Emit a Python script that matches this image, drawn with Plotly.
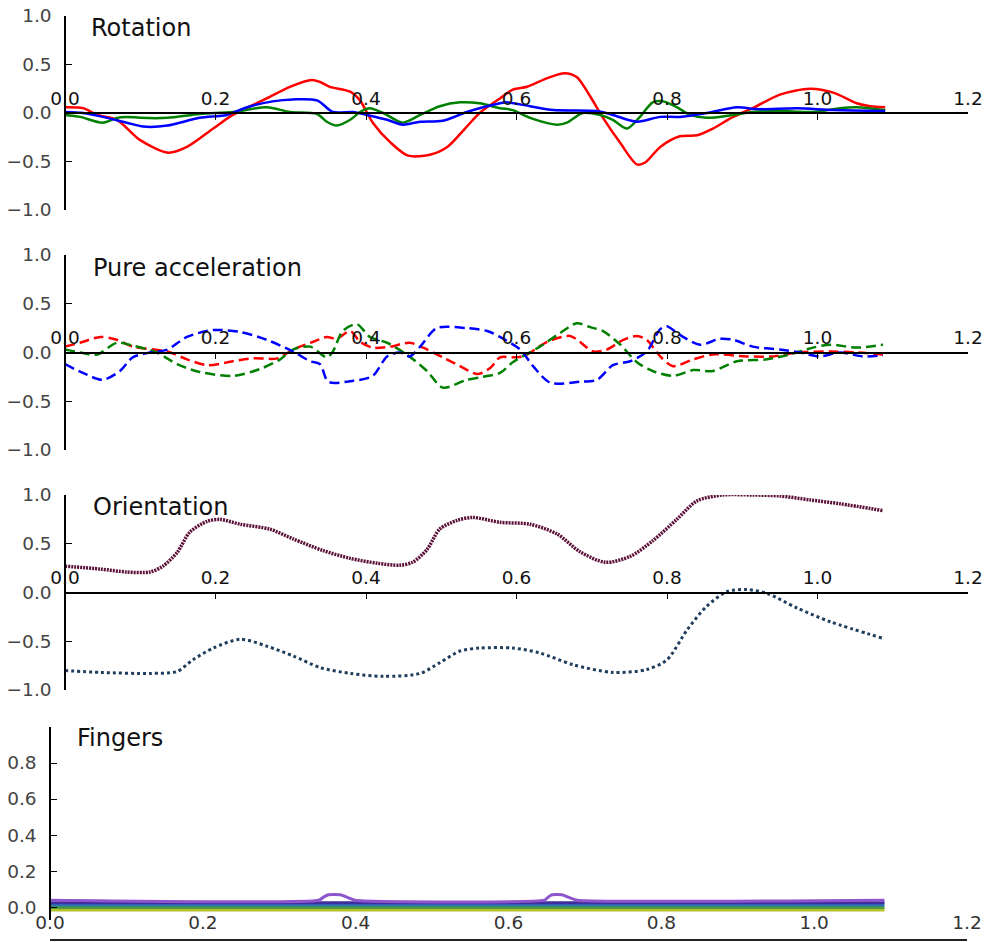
import plotly.graph_objects as go

W, H = 984, 942

# ---------------- data ----------------
rot_red_x = [0, .024, .043, .069, .100, .137, .162, .197, .223, .268, .299, .328, .339, .352, .379, .392, .409, .432, .456, .485,
             .508, .534, .551, .578, .595, .614, .641, .664, .680, .698, .715, .738, .760, .771, .791, .817, .840, .861, .888, .914,
             .950, .990, 1.021, 1.052, 1.070, 1.090]
rot_red_y = [0.06, 0.05, -0.02, -0.07, -0.28, -0.41, -0.35, -0.16, -0.02, 0.15, 0.27, 0.34, 0.32, 0.27, 0.22, 0.13, -0.10, -0.30, -0.44, -0.43,
             -0.35, -0.14, 0.0, 0.15, 0.24, 0.27, 0.36, 0.41, 0.37, 0.17, -0.05, -0.31, -0.53, -0.51, -0.35, -0.24, -0.23, -0.16, -0.04, 0.05,
             0.19, 0.25, 0.21, 0.10, 0.07, 0.06]

rot_green_x = [0, .020, .050, .069, .082, .100, .136, .179, .223, .268, .299, .335, .348, .361, .379, .392, .405, .423, .449, .472,
               .498, .525, .551, .578, .595, .618, .654, .667, .688, .711, .728, .747, .764, .781, .795, .813, .831, .853, .888, .914,
               .950, .994, 1.030, 1.052, 1.090]
rot_green_y = [-0.02, -0.04, -0.10, -0.05, -0.04, -0.05, -0.05, -0.01, 0.01, 0.06, 0.01, -0.01, -0.09, -0.13, -0.07, 0.01, 0.05, 0.0, -0.10, -0.02,
               0.07, 0.11, 0.10, 0.05, 0.03, -0.05, -0.12, -0.10, 0.0, -0.02, -0.07, -0.16, -0.04, 0.11, 0.12, 0.06, -0.02, -0.05, -0.02, 0.01,
               0.02, 0.01, 0.05, 0.06, 0.03]

rot_blue_x = [0, .024, .056, .082, .104, .136, .179, .215, .242, .276, .303, .335, .356, .383, .401, .428, .449, .472, .502, .534,
              .578, .587, .618, .649, .707, .728, .760, .791, .817, .853, .893, .920, .973, 1.021, 1.090]
rot_blue_y = [0.01, 0.0, -0.05, -0.10, -0.14, -0.13, -0.05, -0.02, 0.06, 0.12, 0.14, 0.13, 0.01, 0.01, -0.02, -0.07, -0.12, -0.09, -0.08, 0.01,
              0.10, 0.11, 0.07, 0.03, 0.02, -0.02, -0.09, -0.04, -0.04, 0.0, 0.06, 0.04, 0.05, 0.03, 0.02]

acc_red_x = [0, .020, .047, .069, .090, .136, .162, .189, .223, .250, .282, .303, .330, .348, .361, .379, .392, .409, .432, .458,
             .476, .502, .525, .548, .565, .578, .595, .609, .641, .671, .684, .702, .720, .742, .760, .773, .791, .808, .835, .861,
             .906, .941, .973, 1.017, 1.052, 1.087]
acc_red_y = [0.06, 0.10, 0.16, 0.13, 0.06, 0.01, -0.07, -0.13, -0.09, -0.06, -0.06, 0.03, 0.11, 0.16, 0.14, 0.22, 0.11, 0.05, 0.06, 0.10,
             0.05, -0.05, -0.14, -0.22, -0.16, -0.05, -0.05, -0.04, 0.11, 0.17, 0.11, 0.01, 0.03, 0.13, 0.17, 0.13, -0.04, -0.14, -0.07, -0.02,
             -0.04, -0.04, 0.0, 0.01, 0.0, -0.02]

acc_green_x = [0, .020, .043, .069, .090, .122, .149, .179, .223, .259, .286, .303, .326, .348, .356, .369, .388, .405, .428, .454,
               .481, .502, .534, .555, .578, .595, .631, .658, .680, .698, .715, .738, .760, .781, .808, .835, .861, .893, .933, .963,
               .994, 1.017, 1.052, 1.087]
acc_green_y = [0.03, 0.0, -0.02, 0.10, 0.07, 0.0, -0.12, -0.20, -0.24, -0.17, -0.07, 0.03, 0.06, -0.05, 0.01, 0.22, 0.29, 0.16, 0.10, -0.02,
               -0.19, -0.36, -0.28, -0.25, -0.21, -0.10, 0.06, 0.20, 0.30, 0.26, 0.22, 0.08, -0.10, -0.19, -0.24, -0.18, -0.19, -0.09, -0.07, -0.02,
               0.05, 0.08, 0.05, 0.08]

acc_blue_x = [0, .024, .050, .073, .090, .113, .136, .162, .197, .233, .268, .303, .326, .339, .350, .383, .409, .428, .445, .458,
              .472, .494, .534, .561, .578, .605, .622, .645, .684, .707, .728, .751, .773, .791, .800, .817, .844, .870, .888, .914,
              .950, .977, 1.003, 1.030, 1.060, 1.087]
acc_blue_y = [-0.12, -0.21, -0.28, -0.19, -0.05, 0.0, 0.03, 0.16, 0.23, 0.21, 0.13, 0.01, -0.09, -0.12, -0.30, -0.29, -0.24, -0.04, 0.0, -0.04,
              0.06, 0.25, 0.25, 0.22, 0.16, 0.03, -0.14, -0.31, -0.30, -0.28, -0.13, -0.09, 0.01, 0.24, 0.27, 0.18, 0.08, 0.14, 0.13, 0.06,
              0.03, 0.0, -0.04, 0.0, -0.04, -0.03]

ori_top_x = [0, .047, .082, .113, .130, .149, .166, .189, .206, .233, .272, .303, .343, .379, .415, .445, .462, .481, .498, .521,
             .542, .578, .618, .654, .684, .718, .751, .781, .813, .840, .874, .914, .950, .990, 1.030, 1.087]
ori_top_y = [0.27, 0.24, 0.21, 0.21, 0.27, 0.41, 0.62, 0.73, 0.75, 0.70, 0.65, 0.55, 0.43, 0.35, 0.30, 0.28, 0.31, 0.44, 0.65, 0.74,
             0.77, 0.72, 0.70, 0.60, 0.42, 0.31, 0.37, 0.53, 0.75, 0.94, 1.00, 1.00, 0.99, 0.95, 0.91, 0.84]

ori_bot_x = [0, .047, .113, .149, .170, .197, .233, .268, .303, .339, .379, .423, .472, .498, .525, .551, .595, .631, .675, .728,
             .773, .800, .827, .853, .880, .906, .933, .973, 1.017, 1.087]
ori_bot_y = [-0.80, -0.82, -0.83, -0.81, -0.69, -0.57, -0.48, -0.55, -0.65, -0.77, -0.83, -0.86, -0.83, -0.72, -0.60, -0.57, -0.57, -0.62, -0.74, -0.82,
             -0.79, -0.69, -0.38, -0.14, 0.01, 0.03, -0.01, -0.16, -0.30, -0.47]

fing_flat_x = [0, 1.092]
fing_purple_x = [0, .352, .358, .364, .380, .390, .399, .647, .652, .657, .670, .680, .690, 1.092]
fing_purple_y = [0.038, 0.038, 0.055, 0.068, 0.068, 0.052, 0.038, 0.038, 0.055, 0.068, 0.068, 0.052, 0.038, 0.038]
fing_levels = [0.024, 0.011, -0.002, -0.016]
fing_colors = ["#3d2f9e", "#2f74b0", "#4a9c3c", "#b4c22c"]

titles = ["Rotation", "Pure acceleration", "Orientation", "Fingers"]
xticks = [0, 0.2, 0.4, 0.6, 0.8, 1.0, 1.2]
yticks_main = [-1.0, -0.5, 0.0, 0.5, 1.0]
yticks_fing = [0.0, 0.2, 0.4, 0.6, 0.8]

# ---------------- helpers ----------------
def py(p):
    return 1 - p / H

def pxx(p):
    return p / W

FONT = "DejaVu Sans"
TICK = 18.5
fig = go.Figure()

def add(x, y, axis, color, dash="solid", width=2.5):
    fig.add_trace(go.Scatter(x=x, y=y, xaxis="x" + axis, yaxis="y" + axis, mode="lines",
                             line=dict(color=color, width=width, dash=dash, shape="spline", smoothing=0.8),
                             hoverinfo="skip", showlegend=False))

add(rot_red_x, rot_red_y, "", "#ff0000")
add(rot_green_x, rot_green_y, "", "#008000")
add(rot_blue_x, rot_blue_y, "", "#0000ff")

DASH = "10px,5px"
add(acc_red_x, acc_red_y, "2", "#ff0000", DASH)
add(acc_green_x, acc_green_y, "2", "#008000", DASH)
add(acc_blue_x, acc_blue_y, "2", "#0000ff", DASH)

add(ori_top_x, ori_top_y, "3", "#5a1038", "2px,1px", 3.5)
add(ori_bot_x, ori_bot_y, "3", "#1f3d5c", "3px,3px", 3)

for lvl, col in zip(fing_levels[::-1], fing_colors[::-1]):
    fig.add_trace(go.Scatter(x=fing_flat_x, y=[lvl, lvl], xaxis="x4", yaxis="y4", mode="lines",
                             line=dict(color=col, width=3), hoverinfo="skip", showlegend=False))
fig.add_trace(go.Scatter(x=fing_purple_x, y=fing_purple_y, xaxis="x4", yaxis="y4", mode="lines",
                         line=dict(color="#8e55cc", width=3, shape="spline", smoothing=0.5),
                         hoverinfo="skip", showlegend=False))

# ---------------- axes ----------------
main_y = [(16, 210), (255, 450), (495, 690)]   # pixel top/bottom (v=1, v=-1)
layout = dict(width=W, height=H, margin=dict(l=0, r=0, t=0, b=0, autoexpand=False),
              paper_bgcolor="white", plot_bgcolor="white",
              font=dict(family=FONT, size=16, color="#111"))

for i, (top, bot) in enumerate(main_y):
    suf = "" if i == 0 else str(i + 1)
    zero = (top + bot) / 2
    layout["xaxis" + suf] = dict(domain=[pxx(65), pxx(968)], range=[0, 1.2], anchor="free", position=py(zero),
                                side="top", showline=True, linecolor="black", linewidth=1.5,
                                ticks="inside", ticklen=6, tickcolor="black", tickwidth=1,
                                tickvals=xticks, tickformat=".1f", showgrid=False, zeroline=False, automargin=False,
                                tickfont=dict(size=TICK, color="#111"), ticklabelstandoff=0, fixedrange=True)
    layout["yaxis" + suf] = dict(domain=[py(bot), py(top)], range=[-1, 1], anchor="free", position=pxx(65),
                                side="left", showline=True, linecolor="black", linewidth=1.5,
                                ticks="inside", ticklen=6, tickcolor="black", automargin=False,
                                tickvals=yticks_main, tickformat=".1f", showgrid=False, zeroline=False,
                                tickfont=dict(size=TICK, color="#444"), ticklabelstandoff=9, fixedrange=True)

layout["xaxis4"] = dict(domain=[pxx(50), pxx(967)], range=[0, 1.2], anchor="free", position=py(940),
                        side="top", showline=True, linecolor="#222", linewidth=1.5, ticks="",
                        tickvals=xticks, tickformat=".1f", showgrid=False, zeroline=False, automargin=False,
                        tickfont=dict(size=TICK, color="#333"), ticklabelstandoff=3, fixedrange=True)
layout["yaxis4"] = dict(domain=[py(920), py(727)], range=[-0.072, 1.0], anchor="free", position=pxx(50),
                        side="left", showline=True, linecolor="black", linewidth=1.5,
                        ticks="inside", ticklen=6, tickcolor="black", automargin=False,
                        tickvals=yticks_fing, tickformat=".1f", showgrid=False, zeroline=False,
                        tickfont=dict(size=TICK, color="#444"), ticklabelstandoff=9, fixedrange=True)

title_pos = [(89, 28), (91, 268), (91, 507), (75, 738)]
layout["annotations"] = [dict(text=t, x=pxx(x), y=py(y), xref="paper", yref="paper", xanchor="left",
                              yanchor="middle", showarrow=False, font=dict(size=24, color="#111", family=FONT))
                         for t, (x, y) in zip(titles, title_pos)]

fig.update_layout(**layout)
fig.write_html("out.html", config={"displayModeBar": False},
               post_script="document.body.style.margin='0';document.body.style.overflow='hidden';")
